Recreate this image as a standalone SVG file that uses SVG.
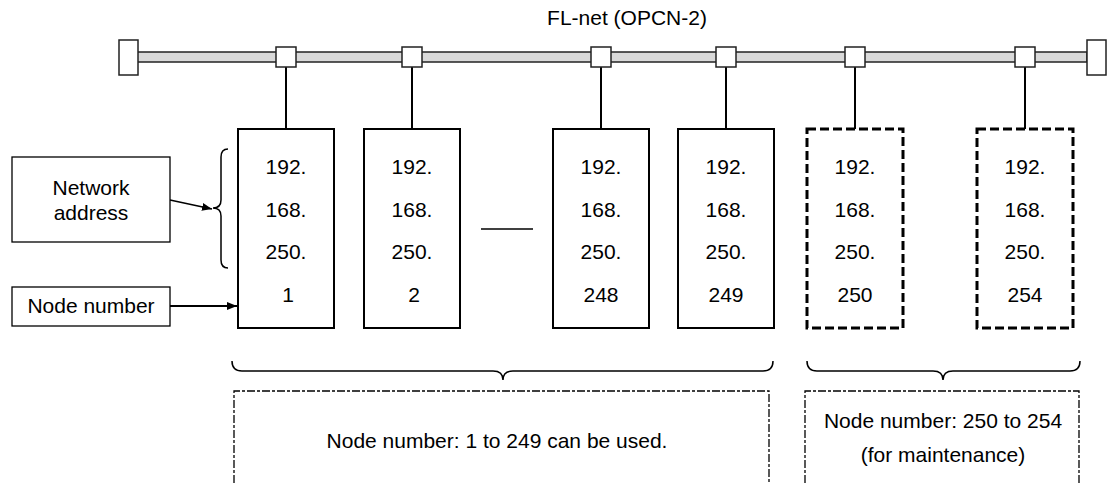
<svg xmlns="http://www.w3.org/2000/svg" width="1107" height="483" viewBox="0 0 1107 483">
<defs>
<style>
text{font-family:"Liberation Sans",Arial,sans-serif;font-size:21px;fill:#000}
.c{text-anchor:middle}
.box{fill:#fff;stroke:#000;stroke-width:2}
.dbox{fill:#fff;stroke:#000;stroke-width:3;stroke-dasharray:9 4}
.lbl{fill:#fff;stroke:#000;stroke-width:1.3}
.drop{stroke:#000;stroke-width:2;fill:none}
.jn{fill:#fff;stroke:#222;stroke-width:1.5}
.brace{fill:none;stroke:#000;stroke-width:1.5}
.area{fill:none;stroke:#000;stroke-width:1.3;stroke-dasharray:8 2 3 2}
</style>
<marker id="ah" viewBox="0 0 10 10" refX="10" refY="5" markerWidth="10" markerHeight="10" markerUnits="userSpaceOnUse" orient="auto">
<path d="M0,1 L10,5 L0,9 Z" fill="#000"/>
</marker>
</defs>
<rect width="1107" height="483" fill="#fff"/>
<g id="bus">
<text class="c" x="627" y="25">FL-net (OPCN-2)</text>
<rect x="137" y="52" width="950" height="10" fill="#d9d9d9" stroke="#222" stroke-width="1.5"/>
<rect class="jn" x="119" y="40" width="19" height="35"/>
<rect class="jn" x="1087" y="40" width="19" height="35"/>
</g>
<g id="connectors">
<line class="drop" x1="286" y1="67" x2="286" y2="129"/>
<line class="drop" x1="412" y1="67" x2="412" y2="129"/>
<line class="drop" x1="601" y1="67" x2="601" y2="129"/>
<line class="drop" x1="726" y1="67" x2="726" y2="129"/>
<line class="drop" x1="855" y1="67" x2="855" y2="129"/>
<line class="drop" x1="1025" y1="67" x2="1025" y2="129"/>
<rect class="jn" x="276" y="47" width="20" height="20"/>
<rect class="jn" x="402" y="47" width="20" height="20"/>
<rect class="jn" x="591" y="47" width="20" height="20"/>
<rect class="jn" x="716" y="47" width="20" height="20"/>
<rect class="jn" x="845" y="47" width="20" height="20"/>
<rect class="jn" x="1015" y="47" width="20" height="20"/>
<line x1="170" y1="200" x2="212" y2="209" stroke="#000" stroke-width="1.5" marker-end="url(#ah)"/>
<line x1="170" y1="306" x2="237" y2="306" stroke="#000" stroke-width="2" marker-end="url(#ah)"/>
<line x1="481" y1="229" x2="533" y2="229" stroke="#000" stroke-width="1.5"/>
<path class="brace" d="M228,149 Q221,149 221,157 L221,200 Q221,208 213,208 Q221,208 221,216 L221,260 Q221,268 228,268"/>
<path class="brace" d="M232,361 Q232,371 242,371 L493,371 Q503,371 503,380 Q503,371 513,371 L763,371 Q773,371 773,361"/>
<path class="brace" d="M807,361 Q807,371 817,371 L933,371 Q943,371 943,380 Q943,371 953,371 L1070,371 Q1080,371 1080,361"/>
</g>
<g id="label-network-address">
<rect class="lbl" x="12" y="157" width="158" height="85"/>
<text class="c" x="91" y="195">Network</text>
<text class="c" x="91" y="220">address</text>
</g>
<g id="label-node-number">
<rect class="lbl" x="12" y="287" width="158" height="39"/>
<text class="c" x="91" y="313">Node number</text>
</g>
<g id="node-1">
<rect class="box" x="238" y="129" width="96" height="199"/>
<text class="c" x="286" y="174">192.</text><text class="c" x="286" y="217">168.</text><text class="c" x="286" y="259">250.</text><text class="c" x="288" y="302">1</text>
</g>
<g id="node-2">
<rect class="box" x="364" y="129" width="96" height="199"/>
<text class="c" x="412" y="174">192.</text><text class="c" x="412" y="217">168.</text><text class="c" x="412" y="259">250.</text><text class="c" x="414" y="302">2</text>
</g>
<g id="node-248">
<rect class="box" x="553" y="129" width="96" height="199"/>
<text class="c" x="601" y="174">192.</text><text class="c" x="601" y="217">168.</text><text class="c" x="601" y="259">250.</text><text class="c" x="601" y="302">248</text>
</g>
<g id="node-249">
<rect class="box" x="678" y="129" width="96" height="199"/>
<text class="c" x="726" y="174">192.</text><text class="c" x="726" y="217">168.</text><text class="c" x="726" y="259">250.</text><text class="c" x="726" y="302">249</text>
</g>
<g id="node-250">
<rect class="dbox" x="807" y="129" width="96" height="199"/>
<text class="c" x="855" y="174">192.</text><text class="c" x="855" y="217">168.</text><text class="c" x="855" y="259">250.</text><text class="c" x="855" y="302">250</text>
</g>
<g id="node-254">
<rect class="dbox" x="977" y="129" width="96" height="199"/>
<text class="c" x="1025" y="174">192.</text><text class="c" x="1025" y="217">168.</text><text class="c" x="1025" y="259">250.</text><text class="c" x="1025" y="302">254</text>
</g>
<g id="range-usable">
<path class="area" d="M234,483 V391 H769 V483"/>
<text class="c" x="497" y="448">Node number: 1 to 249 can be used.</text>
</g>
<g id="range-maintenance">
<path class="area" d="M805,483 V391 H1079 V483"/>
<text class="c" x="943" y="428">Node number: 250 to 254</text>
<text class="c" x="943" y="462">(for maintenance)</text>
</g>
</svg>
